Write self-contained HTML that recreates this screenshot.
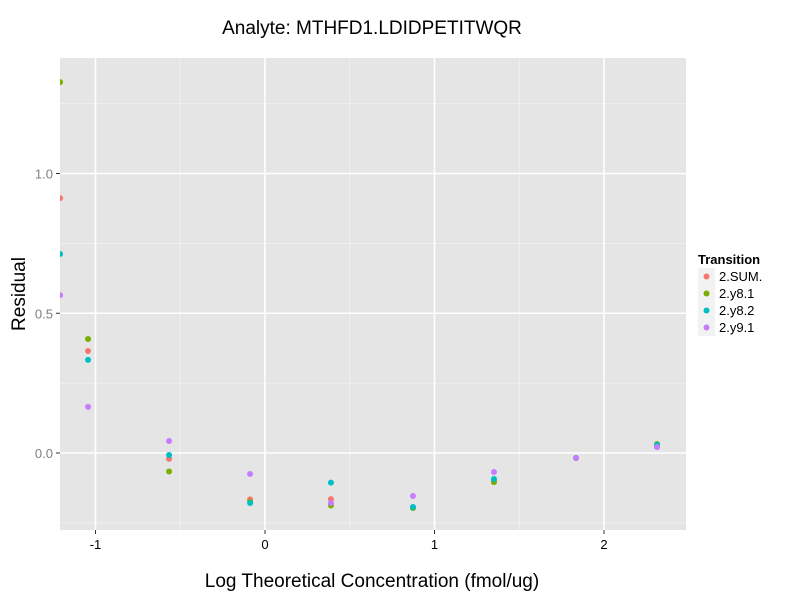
<!DOCTYPE html>
<html><head><meta charset="utf-8"><style>
body{margin:0;background:#fff;font-family:"Liberation Sans",sans-serif}
</style></head><body>
<svg id="chart" width="800" height="600" xmlns="http://www.w3.org/2000/svg">
<defs><clipPath id="pc"><rect x="60" y="58" width="626" height="472"/></clipPath></defs>
<rect x="60" y="58" width="626" height="472" fill="#e5e5e5"/>
<g id="grid" clip-path="url(#pc)"></g>
<g id="pts" clip-path="url(#pc)"></g>
<g id="axes"></g>
<text x="372" y="34" font-size="19" text-anchor="middle">Analyte: MTHFD1.LDIDPETITWQR</text>
<text x="372" y="587" font-size="19" text-anchor="middle">Log Theoretical Concentration (fmol/ug)</text>
<text transform="translate(25,294) rotate(-90)" font-size="19" text-anchor="middle">Residual</text>
<g id="legend"></g>
</svg>
<script>
const xVals=[-1.209,-1.044,-0.566,-0.088,0.389,0.873,1.351,1.835,2.313];
const seriesNames=["2.SUM.","2.y8.1","2.y8.2","2.y9.1"];
const seriesColors=["#f8766d","#7cae00","#00bfc4","#c77cff"];
const sumVals=[0.912,0.365,-0.021,-0.166,-0.165,-0.195,-0.098,-0.018,0.026];
const y81Vals=[1.327,0.408,-0.066,-0.175,-0.188,-0.197,-0.104,-0.018,0.032];
const y82Vals=[0.712,0.333,-0.007,-0.179,-0.106,-0.193,-0.093,-0.018,0.029];
const y91Vals=[0.565,0.165,0.043,-0.075,-0.179,-0.154,-0.068,-0.018,0.021];
const xTicks=[-1,0,1,2];
const yTicks=[0,0.5,1.0];
const yTickLabels=["0.0","0.5","1.0"];
const NS="http://www.w3.org/2000/svg";
const X=v=>265+v*169.5, Y=v=>453-v*279.5;
function mk(t,a,p){const e=document.createElementNS(NS,t);for(const k in a)e.setAttribute(k,a[k]);p.appendChild(e);return e;}
const grid=document.getElementById('grid'),axes=document.getElementById('axes');
[-0.5,0.5,1.5].forEach(v=>{const l=mk('line',{x1:X(v),x2:X(v),y1:58,y2:530,stroke:'#f2f2f2','stroke-width':0.8},grid);

});
[-0.25,0.25,0.75,1.25].forEach(v=>{const l=mk('line',{x1:60,x2:686,y1:Y(v),y2:Y(v),stroke:'#f2f2f2','stroke-width':0.8},grid);

});
xTicks.forEach(v=>{const l=mk('line',{x1:X(v),x2:X(v),y1:58,y2:530,stroke:'#fff','stroke-width':1.6},grid);


const t=mk('line',{x1:X(v),x2:X(v),y1:530,y2:534,stroke:'#333'},axes);


const tx=mk('text',{x:X(v),y:549,'font-size':13,'text-anchor':'middle',fill:'#000'},axes);tx.textContent=v;

});
yTicks.forEach((v,i)=>{const l=mk('line',{x1:60,x2:686,y1:Y(v),y2:Y(v),stroke:'#fff','stroke-width':1.6},grid);


const t=mk('line',{x1:56,x2:60,y1:Y(v),y2:Y(v),stroke:'#333'},axes);


const tx=mk('text',{x:53,y:Y(v)+5,'font-size':13,'text-anchor':'end',fill:'#7f7f7f'},axes);tx.textContent=yTickLabels[i];

});
const pts=document.getElementById('pts');
[sumVals,y81Vals,y82Vals,y91Vals].forEach((s,si)=>{s.forEach((v,i)=>{const c=mk('circle',{cx:X(xVals[i]),cy:Y(v),r:3,fill:seriesColors[si]},pts);

});});
const lg=document.getElementById('legend');
const lt=mk('text',{x:698,y:264,'font-size':13,'font-weight':'bold'},lg);lt.textContent='Transition';


seriesNames.forEach((n,i)=>{const y=268+i*17;
const r=mk('rect',{x:698,y:y,width:17,height:17,fill:'#f2f2f2'},lg);


const c=mk('circle',{cx:706.5,cy:y+8.5,r:3,fill:seriesColors[i]},lg);


const t=mk('text',{x:719,y:y+13,'font-size':13},lg);t.textContent=n;

});
</script>
</body></html>
